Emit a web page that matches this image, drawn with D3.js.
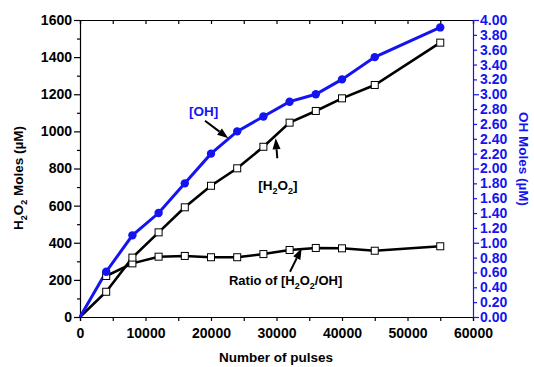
<!DOCTYPE html>
<html><head><meta charset="utf-8">
<script src="https://cdn.jsdelivr.net/npm/d3@7"></script>
<style>
html,body{margin:0;padding:0;background:#fff;}
text{font-family:"Liberation Sans",Arial,sans-serif;font-weight:bold;}
</style></head>
<body><svg id="c" width="534" height="367"></svg>
<script>
const pulses = [0,4000,8000,12000,16000,20000,24000,28000,32000,36000,40000,45000,55000];
const h2o2 = [0,136,320,456,591,707,801,917,1047,1110,1178,1250,1478];
const oh = [0,0.61,1.10,1.40,1.80,2.20,2.50,2.70,2.90,3.00,3.20,3.50,3.90];
const ratioPulses = [4000,8000,12000,16000,20000,24000,28000,32000,36000,40000,45000,55000];
const ratio = [221,289,325,329,322,322,339,361,372,370,357,381];
const xTicks = [0,10000,20000,30000,40000,50000,60000];
const yLeftTicks = [0,200,400,600,800,1000,1200,1400,1600];
const yRightTicks = d3.range(0,21).map(i=>i*0.2);

const BLUE = "#1414f0";
const FS = "14px";
const svg = d3.select("#c");
const x = d3.scaleLinear([0,60000],[80,473]);
const yL = d3.scaleLinear([0,1600],[317,20]);
const yR = d3.scaleLinear([0,4],[317,20]);

// axes
const gB = svg.append("g").attr("transform","translate(0,317)")
  .call(d3.axisBottom(x).tickValues(xTicks).tickFormat(d3.format("d")).tickSizeOuter(0).tickSize(4).tickPadding(7));
const gBm = svg.append("g").attr("transform","translate(0,317)")
  .call(d3.axisBottom(x).tickValues(d3.range(5000,60000,10000)).tickFormat("").tickSizeOuter(0).tickSize(4));
gBm.select(".domain").remove();
const gT = svg.append("g").attr("transform","translate(0,20)")
  .call(d3.axisBottom(x).tickValues(d3.range(0,60001,5000)).tickFormat("").tickSizeOuter(0).tickSize(4));
const gL = svg.append("g").attr("transform","translate(80,0)")
  .call(d3.axisLeft(yL).tickValues(yLeftTicks).tickFormat(d3.format("d")).tickSizeOuter(0).tickSize(6).tickPadding(2));
const gLm = svg.append("g").attr("transform","translate(80,0)")
  .call(d3.axisLeft(yL).tickValues(d3.range(100,1600,200)).tickFormat("").tickSizeOuter(0).tickSize(3));
gLm.select(".domain").remove();
const gR = svg.append("g").attr("transform","translate(473,0)")
  .call(d3.axisRight(yR).tickValues(yRightTicks).tickFormat(d3.format(".2f")).tickSizeOuter(0)
  .tickSize(4).tickPadding(4));
gR.selectAll(".tick line").attr("x2", d => (Math.abs(d - Math.round(d)) < 1e-6) ? 6 : 4);

[gB,gBm,gT,gL,gLm].forEach(g=>{
  g.selectAll("path,line").attr("stroke","#000").attr("stroke-width",1.2);
  g.selectAll("text").attr("fill","#000").style("font-size",FS).style("font-weight","bold")
    .style("font-family",'"Liberation Sans",Arial,sans-serif');
});
gR.selectAll("path,line").attr("stroke",BLUE).attr("stroke-width",1.2);
gR.selectAll("text").attr("fill",BLUE).style("font-size",FS).style("font-weight","bold")
  .style("font-family",'"Liberation Sans",Arial,sans-serif').attr("dx",-1);

// lines
const lineL = d3.line().x(d=>x(d[0])).y(d=>yL(d[1]));
const lineR = d3.line().x(d=>x(d[0])).y(d=>yR(d[1]));
const h2o2Data = pulses.map((p,i)=>[p,h2o2[i]]);
const ohData = pulses.map((p,i)=>[p,oh[i]]);
const ratioData = ratioPulses.map((p,i)=>[p,ratio[i]]);

svg.append("path").datum(ratioData).attr("d",lineL).attr("fill","none").attr("stroke","#000").attr("stroke-width",2.6);
svg.append("path").datum(h2o2Data).attr("d",lineL).attr("fill","none").attr("stroke","#000").attr("stroke-width",2.6);
svg.append("path").datum(ohData).attr("d",lineR).attr("fill","none").attr("stroke",BLUE).attr("stroke-width",3);

function squares(data, yS){
  svg.append("g").selectAll("rect").data(data).join("rect")
    .attr("x",d=>x(d[0])-3.5).attr("y",d=>yS(d[1])-3.5).attr("width",7).attr("height",7)
    .attr("fill","#fff").attr("stroke","#000").attr("stroke-width",1);
}
squares(ratioData, yL);
squares(h2o2Data.slice(1), yL);
svg.append("g").selectAll("circle").data(ohData.slice(1)).join("circle")
  .attr("cx",d=>x(d[0])).attr("cy",d=>yR(d[1])).attr("r",4.2).attr("fill",BLUE);

// annotations (data coordinates)
function arrow(x1,y1,x2,y2){
  const X1=x(x1),Y1=yL(y1),X2=x(x2),Y2=yL(y2);
  const ang=Math.atan2(Y2-Y1,X2-X1), L=11, W=4;
  const bx=X2-L*Math.cos(ang), by=Y2-L*Math.sin(ang);
  svg.append("line").attr("x1",X1).attr("y1",Y1).attr("x2",bx).attr("y2",by)
    .attr("stroke","#000").attr("stroke-width",2);
  const p=[[X2,Y2],[bx+W*Math.sin(ang),by-W*Math.cos(ang)],[bx-W*Math.sin(ang),by+W*Math.cos(ang)]];
  svg.append("path").attr("d","M"+p.map(q=>q.join(",")).join("L")+"Z").attr("fill","#000");
}
arrow(19084,1057,22641,963);
arrow(30122,855,29878,963);
arrow(32061,244,33847,370);

svg.append("text").attr("x",x(16641)).attr("y",yL(1084)).attr("fill",BLUE).style("font-size","13.5px").text("[OH]");
const t2 = svg.append("text").attr("x",x(27221)).attr("y",yL(684)).attr("fill","#000").style("font-size","13.5px");
t2.append("tspan").text("[H");
t2.append("tspan").attr("dy",4).style("font-size","9px").text("2");
t2.append("tspan").attr("dy",-4).text("O");
t2.append("tspan").attr("dy",4).style("font-size","9px").text("2");
t2.append("tspan").attr("dy",-4).text("]");
const t3 = svg.append("text").attr("x",x(22748)).attr("y",yL(172)).attr("fill","#000").style("font-size","13px");
t3.append("tspan").text("Ratio of [H");
t3.append("tspan").attr("dy",4).style("font-size","9px").text("2");
t3.append("tspan").attr("dy",-4).text("O");
t3.append("tspan").attr("dy",4).style("font-size","9px").text("2");
t3.append("tspan").attr("dy",-4).text("/OH]");

// axis titles
svg.append("text").attr("x",276).attr("y",362).attr("text-anchor","middle").style("font-size","13.5px").text("Number of pulses");
const tl = svg.append("text").attr("transform","translate(23,178) rotate(-90)").attr("text-anchor","middle").style("font-size","13.5px");
tl.append("tspan").text("H");
tl.append("tspan").attr("dy",4).style("font-size","9px").text("2");
tl.append("tspan").attr("dy",-4).text("O");
tl.append("tspan").attr("dy",4).style("font-size","9px").text("2");
tl.append("tspan").attr("dy",-4).text(" Moles (\u00b5M)");
svg.append("text").attr("transform","translate(519,159) rotate(90)").attr("text-anchor","middle")
  .attr("fill",BLUE).style("font-size","13.5px").text("OH Moles (\u00b5M)");
</script></body></html>
